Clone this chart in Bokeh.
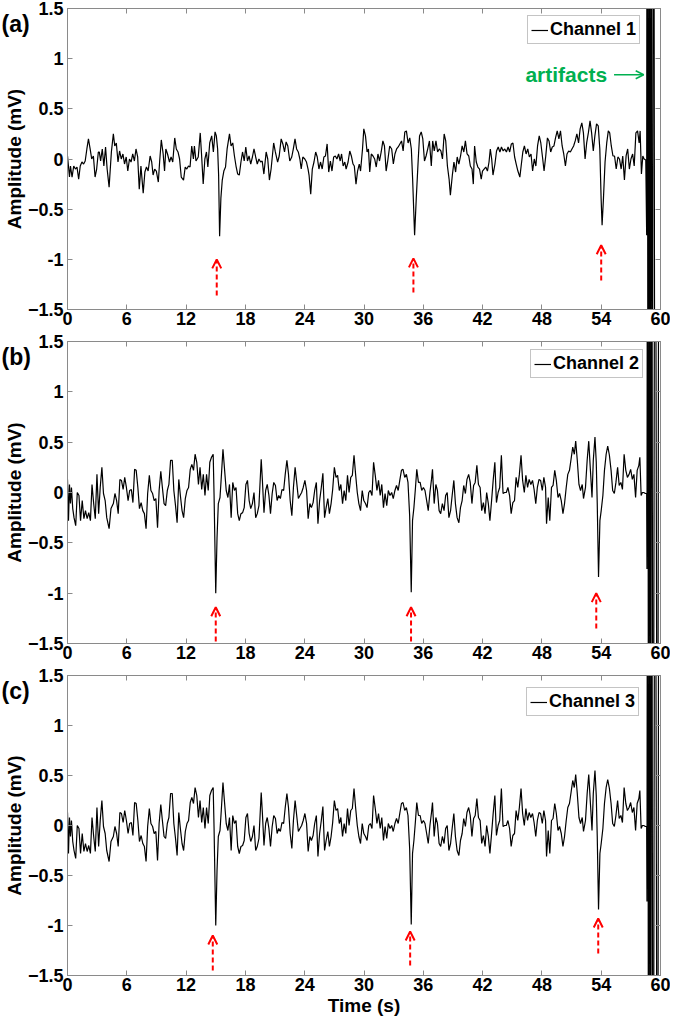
from bokeh.plotting import figure
from bokeh.layouts import column
from bokeh.models import (Range1d, LinearAxis, FixedTicker, Label, Arrow, OpenHead,
                          ColumnDataSource, CustomJSTickFormatter)
from bokeh.embed import file_html
from bokeh.resources import INLINE

# ---------------- data ----------------
x_ticks = [0, 6, 12, 18, 24, 30, 36, 42, 48, 54, 60]
y_ticks = [-1.5, -1, -0.5, 0, 0.5, 1, 1.5]
y_tick_labels = {-1: "-1", 0: "0", 1: "1"}

ch1_time = [
    0.0, 0.2, 0.3, 0.46, 0.63, 0.8, 0.96, 1.13, 1.29, 1.46,
    1.63, 1.79, 1.96, 2.12, 2.29, 2.45, 2.62, 2.79, 2.95, 3.12,
    3.22, 3.35, 3.52, 3.68, 3.85, 4.01, 4.21, 4.44, 4.64, 4.78,
    4.94, 5.11, 5.27, 5.44, 5.61, 5.77, 5.94, 6.1, 6.27, 6.43,
    6.6, 6.77, 6.93, 7.1, 7.26, 7.43, 7.66, 7.83, 7.99, 8.16,
    8.36, 8.52, 8.66, 8.82, 8.99, 9.19, 9.32, 9.49, 9.68, 9.82,
    9.95, 10.12, 10.32, 10.48, 10.65, 10.85, 11.01, 11.18, 11.34, 11.51,
    11.74, 11.91, 12.07, 12.24, 12.4, 12.57, 12.74, 12.84, 13.0, 13.23,
    13.43, 13.56, 13.73, 13.9, 14.06, 14.2, 14.39, 14.59, 14.76, 14.93,
    15.06, 15.19, 15.29, 15.39, 15.52, 15.66, 15.82, 15.99, 16.15, 16.39,
    16.55, 16.72, 16.89, 17.05, 17.22, 17.38, 17.55, 17.71, 17.88, 18.04,
    18.21, 18.37, 18.54, 18.71, 18.87, 19.04, 19.2, 19.37, 19.54, 19.7,
    19.87, 20.1, 20.26, 20.43, 20.6, 20.86, 21.03, 21.26, 21.42, 21.62,
    21.79, 21.96, 22.12, 22.29, 22.49, 22.69, 22.85, 23.02, 23.18, 23.35,
    23.51, 23.65, 23.81, 24.01, 24.18, 24.34, 24.44, 24.61, 24.77, 24.94,
    25.11, 25.27, 25.44, 25.6, 25.77, 25.94, 26.1, 26.27, 26.43, 26.6,
    26.76, 26.93, 27.1, 27.26, 27.43, 27.59, 27.73, 27.89, 28.06, 28.19,
    28.39, 28.56, 28.72, 28.89, 29.02, 29.19, 29.35, 29.52, 29.65, 29.85,
    29.98, 30.15, 30.31, 30.45, 30.58, 30.74, 30.91, 31.08, 31.24, 31.41,
    31.57, 31.74, 31.91, 32.07, 32.24, 32.4, 32.6, 32.8, 32.97, 33.13,
    33.3, 33.46, 33.63, 33.8, 33.96, 34.13, 34.29, 34.46, 34.63, 34.79,
    34.92, 35.12, 35.29, 35.49, 35.62, 35.79, 35.95, 36.12, 36.28, 36.45,
    36.62, 36.81, 36.95, 37.11, 37.28, 37.45, 37.61, 37.78, 37.94, 38.11,
    38.27, 38.44, 38.61, 38.74, 38.94, 39.1, 39.27, 39.43, 39.6, 39.77,
    39.93, 40.1, 40.26, 40.43, 40.6, 40.76, 40.93, 41.06, 41.19, 41.36,
    41.52, 41.69, 41.86, 41.99, 42.15, 42.32, 42.49, 42.65, 42.78, 42.92,
    43.05, 43.25, 43.41, 43.58, 43.75, 43.91, 44.08, 44.24, 44.41, 44.58,
    44.74, 44.91, 45.07, 45.24, 45.4, 45.57, 45.77, 45.9, 46.07, 46.23,
    46.4, 46.57, 46.73, 46.9, 47.06, 47.23, 47.39, 47.56, 47.73, 47.89,
    48.06, 48.22, 48.39, 48.56, 48.72, 48.89, 49.05, 49.22, 49.38, 49.55,
    49.72, 49.88, 50.05, 50.21, 50.38, 50.54, 50.71, 50.88, 51.04, 51.21,
    51.37, 51.54, 51.71, 51.87, 52.04, 52.2, 52.37, 52.53, 52.7, 52.87,
    53.03, 53.2, 53.36, 53.53, 53.7, 53.86, 53.99, 54.09, 54.23, 54.39,
    54.56, 54.72, 54.86, 55.02, 55.19, 55.35, 55.52, 55.69, 55.85, 56.02,
    56.18, 56.35, 56.52, 56.68, 56.85, 57.01, 57.18, 57.34, 57.51, 57.68,
    57.84, 57.94, 58.07, 58.21, 58.34, 58.51, 58.6,
    58.65, 58.75, 58.85, 58.95, 59.05, 59.15, 59.3, 59.45,
]
ch1_amp = [
    0.03, -0.18, -0.07, -0.18, -0.07, -0.1, -0.08, -0.2, -0.07, -0.03,
    -0.05, -0.02, 0.1, 0.2, 0.1, 0.0, 0.03, -0.18, -0.1, 0.07,
    0.07, -0.02, 0.1, -0.07, 0.12, -0.1, -0.28, 0.07, 0.25, 0.13,
    0.16, -0.03, 0.08, 0.0, 0.05, -0.05, 0.02, -0.12, 0.0, -0.03,
    0.05, -0.02, 0.1, 0.02, -0.3, -0.07, -0.34, -0.13, -0.08, -0.12,
    0.03, -0.03, -0.16, -0.1, -0.12, -0.23, -0.03, 0.19, 0.05, -0.12,
    0.1, 0.05, -0.03, 0.02, -0.03, 0.21, 0.1, 0.07, 0.0, -0.18,
    -0.21, -0.08, -0.1, -0.07, -0.08, 0.13, 0.0, 0.13, -0.02, 0.02,
    0.26, 0.05, -0.25, 0.0, 0.07, -0.08, 0.16, 0.23, 0.07, 0.27,
    0.23, 0.1, -0.16, -0.77, -0.39, -0.21, -0.12, -0.08, 0.1, 0.25,
    0.13, 0.16, 0.03, -0.07, -0.15, -0.16, -0.03, 0.07, -0.02, 0.12,
    -0.02, 0.03, -0.05, 0.02, 0.1, 0.02, -0.05, 0.0, -0.03, -0.02,
    -0.15, 0.07, 0.0, -0.21, -0.1, 0.16, 0.07, -0.03, 0.03, 0.2,
    0.15, 0.07, 0.17, 0.13, -0.02, 0.02, 0.1, 0.2, 0.1, 0.07,
    0.0, -0.1, 0.02, 0.0, -0.03, -0.1, -0.16, -0.35, -0.1, -0.03,
    0.07, 0.02, -0.1, -0.03, -0.1, 0.02, 0.03, 0.15, -0.13, -0.02,
    -0.12, 0.02, 0.03, 0.0, 0.05, -0.02, 0.05, -0.07, -0.03, -0.1,
    -0.03, 0.08, 0.03, -0.05, -0.07, -0.25, -0.12, -0.05, -0.12, 0.1,
    0.3, 0.23, 0.07, 0.1, -0.13, 0.05, 0.03, 0.0, -0.08, 0.05,
    -0.02, 0.07, 0.18, 0.13, -0.12, -0.02, 0.13, 0.1, -0.05, 0.05,
    0.1, 0.12, 0.15, 0.18, 0.08, 0.27, 0.28, 0.16, 0.21, 0.1,
    -0.2, -0.76, -0.39, 0.0, 0.23, 0.27, 0.2, -0.02, 0.03, 0.1,
    0.18, -0.07, 0.18, 0.08, 0.18, 0.07, 0.1, 0.08, 0.0, 0.25,
    0.18, -0.07, -0.2, -0.36, -0.16, -0.03, -0.13, 0.02, -0.05, 0.03,
    0.13, 0.07, 0.18, 0.05, 0.03, -0.07, -0.1, -0.25, 0.13, -0.03,
    -0.08, -0.1, -0.2, -0.12, -0.1, -0.08, -0.12, -0.03, 0.1, 0.0,
    -0.16, -0.05, 0.08, 0.12, 0.07, 0.12, 0.08, 0.1, 0.07, 0.12,
    0.07, 0.15, 0.16, 0.02, -0.05, -0.12, -0.18, -0.07, 0.07, 0.13,
    0.05, 0.1, 0.02, 0.05, -0.12, 0.0, -0.07, 0.13, 0.23, 0.16,
    0.02, -0.12, 0.03, 0.21, 0.18, 0.07, 0.12, 0.13, 0.21, 0.28,
    0.2, 0.28, 0.13, 0.05, -0.07, 0.05, 0.08, 0.07, 0.1, 0.13,
    0.18, 0.25, 0.16, 0.3, 0.36, 0.26, 0.0, 0.16, 0.26, 0.38,
    0.26, 0.08, 0.23, 0.35, 0.33, 0.1, -0.39, -0.66, -0.39, -0.03,
    0.16, 0.28, 0.26, 0.13, 0.03, 0.03, -0.1, 0.02, 0.0, -0.1,
    0.03, -0.21, 0.03, 0.1, -0.1, 0.0, 0.05, -0.07, 0.26, 0.28,
    0.16, 0.28, -0.15, 0.03, 0.0, -0.01, -0.76,
    6, -6, 6, -6, 6, -6, 6, -6,
]

ch2_time = [
    0.0, 0.1, 0.2, 0.3, 0.4, 0.53, 0.66, 0.83, 0.99, 1.16,
    1.32, 1.49, 1.66, 1.82, 1.99, 2.15, 2.32, 2.48, 2.65, 2.81,
    2.98, 3.15, 3.31, 3.48, 3.64, 3.81, 3.97, 4.21, 4.4, 4.64,
    4.8, 4.97, 5.13, 5.3, 5.46, 5.63, 5.79, 5.96, 6.13, 6.29,
    6.46, 6.62, 6.79, 6.95, 7.12, 7.28, 7.45, 7.62, 7.78, 7.95,
    8.11, 8.28, 8.44, 8.61, 8.77, 8.94, 9.11, 9.27, 9.44, 9.6,
    9.77, 9.93, 10.1, 10.26, 10.43, 10.6, 10.76, 10.93, 11.09, 11.26,
    11.42, 11.59, 11.75, 11.92, 12.09, 12.25, 12.42, 12.58, 12.75, 12.91,
    13.08, 13.25, 13.41, 13.58, 13.74, 13.91, 14.07, 14.24, 14.4, 14.57,
    14.74, 14.83, 15.0, 15.13, 15.26, 15.43, 15.56, 15.73, 15.89, 16.06,
    16.23, 16.39, 16.56, 16.72, 16.89, 17.05, 17.22, 17.38, 17.55, 17.72,
    17.88, 18.05, 18.21, 18.38, 18.54, 18.71, 18.87, 19.04, 19.2, 19.37,
    19.6, 19.72, 19.88, 20.05, 20.21, 20.38, 20.54, 20.71, 20.87, 21.04,
    21.21, 21.37, 21.54, 21.7, 21.87, 22.03, 22.2, 22.36, 22.53, 22.7,
    22.86, 23.03, 23.19, 23.36, 23.52, 23.69, 23.85, 24.02, 24.19, 24.35,
    24.52, 24.68, 24.85, 25.01, 25.18, 25.34, 25.51, 25.68, 25.84, 26.01,
    26.17, 26.34, 26.5, 26.67, 26.83, 27.0, 27.17, 27.33, 27.5, 27.66,
    27.83, 27.99, 28.16, 28.33, 28.49, 28.66, 28.82, 28.99, 29.15, 29.32,
    29.48, 29.65, 29.82, 29.98, 30.15, 30.31, 30.48, 30.64, 30.81, 30.97,
    31.14, 31.31, 31.47, 31.64, 31.8, 31.97, 32.13, 32.3, 32.46, 32.63,
    32.8, 32.96, 33.13, 33.29, 33.46, 33.62, 33.79, 33.95, 34.12, 34.29,
    34.45, 34.62, 34.78, 34.91, 35.05, 35.21, 35.34, 35.51, 35.68, 35.84,
    36.01, 36.17, 36.34, 36.5, 36.67, 36.83, 36.93, 37.1, 37.27, 37.43,
    37.6, 37.76, 37.93, 38.1, 38.26, 38.42, 38.59, 38.76, 38.92, 39.09,
    39.25, 39.42, 39.6, 39.76, 39.93, 40.09, 40.26, 40.42, 40.59, 40.75,
    40.92, 41.09, 41.25, 41.42, 41.58, 41.75, 41.91, 42.08, 42.25, 42.41,
    42.58, 42.74, 42.91, 43.07, 43.24, 43.4, 43.57, 43.73, 43.9, 44.07,
    44.23, 44.4, 44.56, 44.73, 44.89, 45.06, 45.23, 45.39, 45.56, 45.72,
    45.89, 46.05, 46.22, 46.38, 46.55, 46.71, 46.88, 47.05, 47.21, 47.38,
    47.54, 47.71, 47.87, 48.04, 48.2, 48.37, 48.47, 48.64, 48.8, 48.97,
    49.13, 49.3, 49.46, 49.63, 49.79, 49.96, 50.13, 50.29, 50.46, 50.62,
    50.79, 50.95, 51.12, 51.28, 51.42, 51.58, 51.75, 51.91, 52.08, 52.21,
    52.41, 52.58, 52.74, 52.91, 53.07, 53.2, 53.37, 53.5, 53.6, 53.73,
    53.87, 54.0, 54.17, 54.33, 54.5, 54.66, 54.83, 55.0, 55.16, 55.33,
    55.49, 55.66, 55.82, 55.99, 56.15, 56.32, 56.49, 56.65, 56.82, 56.98,
    57.15, 57.31, 57.48, 57.64, 57.81, 57.91, 58.04, 58.17, 58.3, 58.47,
    58.6, 58.63,
    58.7, 58.8, 58.9, 59.0, 59.1, 59.25, 59.45, 59.7, 59.85,
]
ch2_amp = [
    0.13, -0.28, 0.08, -0.11, 0.05, -0.16, -0.25, -0.33, 0.0, -0.03,
    -0.28, -0.08, -0.26, -0.18, -0.26, -0.2, -0.28, 0.08, -0.11, -0.26,
    0.18, -0.21, 0.05, 0.25, -0.01, -0.08, -0.25, -0.36, -0.16, -0.11,
    -0.01, -0.08, -0.21, 0.13, 0.12, 0.03, 0.15, 0.05, -0.08, 0.02,
    0.03, -0.1, 0.23, 0.22, 0.05, -0.16, -0.1, -0.18, -0.21, -0.36,
    -0.01, 0.17, 0.02, -0.01, -0.08, -0.06, -0.35, 0.02, 0.21, 0.05,
    -0.11, -0.13, 0.02, 0.08, 0.32, 0.32, 0.02, -0.13, -0.3, 0.13,
    -0.03, -0.18, -0.25, -0.06, 0.02, 0.05, 0.23, 0.28, 0.22, 0.38,
    0.3, 0.08, 0.25, 0.03, 0.18, -0.03, 0.18, 0.02, 0.3, 0.35,
    0.38, -0.03, -1.0, -0.45, -0.11, -0.05, 0.15, 0.43, 0.23, 0.02,
    -0.05, 0.08, -0.25, 0.1, 0.02, 0.05, -0.21, -0.28, -0.21, -0.2,
    -0.15, 0.08, 0.12, -0.08, -0.16, -0.11, 0.0, -0.25, -0.21, -0.13,
    0.33, 0.12, -0.2, 0.02, 0.08, -0.03, -0.21, -0.01, 0.1, 0.07,
    -0.08, -0.03, -0.06, 0.03, 0.02, 0.18, 0.32, 0.18, -0.08, -0.23,
    0.05, 0.25, 0.1, -0.06, -0.03, 0.0, 0.05, 0.12, 0.02, -0.26,
    -0.11, -0.15, -0.1, 0.02, 0.1, -0.31, -0.08, 0.05, 0.19, -0.25,
    -0.15, -0.06, -0.21, -0.11, 0.03, 0.25, 0.15, 0.17, 0.02, 0.08,
    -0.11, 0.02, -0.08, 0.17, 0.0, 0.15, 0.17, 0.37, 0.18, 0.0,
    -0.11, -0.18, 0.02, -0.08, -0.11, -0.15, 0.0, 0.02, -0.03, 0.3,
    0.17, 0.02, 0.12, -0.03, 0.08, -0.15, -0.01, -0.13, 0.02, -0.03,
    0.0, -0.06, 0.02, 0.07, 0.02, 0.12, 0.22, 0.23, 0.15, 0.18,
    0.1, -0.23, -0.99, -0.28, -0.15, 0.05, 0.23, 0.1, 0.1, 0.02,
    0.05, 0.02, -0.08, -0.18, 0.0, 0.13, 0.23, -0.11, 0.08, 0.02,
    -0.18, -0.21, -0.11, -0.18, -0.03, 0.0, -0.25, -0.18, -0.03, 0.12,
    -0.11, -0.25, -0.3, -0.15, -0.08, 0.07, -0.01, 0.13, 0.18, 0.1,
    -0.11, 0.07, 0.1, 0.27, 0.08, 0.05, -0.18, -0.1, -0.21, 0.0,
    -0.11, -0.28, -0.08, 0.12, 0.3, -0.1, 0.0, 0.05, 0.37, -0.01,
    0.0, 0.0, 0.05, -0.03, -0.21, -0.1, -0.08, 0.15, 0.05, 0.18,
    0.37, 0.12, 0.0, 0.17, 0.05, 0.13, 0.08, 0.12, 0.03, -0.11,
    0.05, 0.13, 0.12, 0.02, 0.15, 0.05, -0.31, -0.05, -0.28, 0.05,
    0.07, 0.22, 0.12, -0.05, -0.01, -0.08, -0.21, -0.11, 0.05, 0.18,
    0.22, 0.33, 0.45, 0.38, 0.51, 0.32, 0.08, 0.02, 0.08, -0.06,
    0.05, 0.32, 0.51, 0.22, -0.05, 0.32, 0.55, 0.3, -0.11, -0.84,
    -0.28, -0.18, -0.03, 0.22, 0.38, 0.46, 0.37, 0.22, 0.02, -0.01,
    0.1, 0.25, 0.07, 0.1, 0.03, 0.38, 0.22, 0.15, 0.18, 0.23,
    0.13, 0.18, -0.05, 0.22, 0.27, 0.35, -0.03, 0.0, 0.0, -0.01,
    -0.01, -0.76,
    6, -6, 6, -6, 6, -6, 6, -6, 6,
]

# channel 3 is visually identical to channel 2 in the reference
ch3_time = list(ch2_time)
ch3_amp = list(ch2_amp)

# red dashed arrows under the spikes: time, tail amplitude, tip amplitude
arrow_a_time = [15.1, 35.0, 54.0]
arrow_a_tail = [-1.36, -1.33, -1.21]
arrow_a_tip = [-1.0, -0.99, -0.86]
arrow_b_time = [15.0, 34.76, 53.5]
arrow_b_tail = [-1.48, -1.48, -1.35]
arrow_b_tip = [-1.14, -1.14, -1.0]
arrow_c_time = [14.7, 34.67, 53.7]
arrow_c_tail = [-1.45, -1.4, -1.28]
arrow_c_tip = [-1.1, -1.06, -0.93]

# ---------------- styling ----------------
FONT = "Liberation Sans"
GRAY = "#8a8a8a"
GREEN = "#00b050"
RED = "#ff0000"


def style_axis(ax, ticks, labels=True, standoff=2):
    ax.ticker = FixedTicker(ticks=ticks)
    ax.major_tick_in = 5
    ax.major_tick_out = 0
    ax.minor_tick_in = 0
    ax.minor_tick_out = 0
    ax.axis_line_color = GRAY
    ax.major_tick_line_color = GRAY
    ax.major_label_text_font = FONT
    ax.major_label_text_font_style = "bold"
    ax.major_label_text_color = "black"
    if labels:
        ax.major_label_text_font_size = "18px"
        ax.major_label_standoff = standoff
    else:
        ax.formatter = CustomJSTickFormatter(code="return ''")
        ax.major_label_text_font_size = "1px"
        ax.major_label_standoff = 0


def make_panel(tag, t, v, name, a_time, a_tail, a_tip, height, bottom, legend_xy,
               xlabel=None, artifacts=False):
    p = figure(width=670, height=height, output_backend="svg", toolbar_location=None,
               x_range=Range1d(0, 60), y_range=Range1d(-1.5, 1.5), tools="",
               min_border_left=56, min_border_right=10, min_border_top=8,
               min_border_bottom=bottom, title=tag)
    p.grid.visible = False
    p.outline_line_color = GRAY
    p.background_fill_color = "white"
    p.border_fill_color = "white"

    # panel tag "(a)" etc., pushed down into the upper-left corner beside the frame
    p.title.align = "left"
    p.title.vertical_align = "bottom"
    p.title.offset = -66
    p.title.standoff = -56
    p.title.text_font = FONT
    p.title.text_font_style = "bold"
    p.title.text_font_size = "23px"
    p.title.text_color = "black"

    style_axis(p.xaxis[0], x_ticks, standoff=2)
    style_axis(p.yaxis[0], y_ticks, standoff=4)
    p.yaxis[0].major_label_overrides = y_tick_labels
    p.yaxis[0].axis_label = "Amplitude (mV)"
    p.yaxis[0].axis_label_text_font = FONT
    p.yaxis[0].axis_label_text_font_style = "bold"
    p.yaxis[0].axis_label_text_font_size = "19px"
    p.yaxis[0].axis_label_text_color = "black"
    p.yaxis[0].axis_label_standoff = 0
    if xlabel:
        p.xaxis[0].axis_label = xlabel
        p.xaxis[0].axis_label_text_font = FONT
        p.xaxis[0].axis_label_text_font_style = "bold"
        p.xaxis[0].axis_label_text_font_size = "19px"
        p.xaxis[0].axis_label_text_color = "black"
        p.xaxis[0].axis_label_standoff = 1

    right = LinearAxis()
    style_axis(right, y_ticks, labels=False)
    p.add_layout(right, "right")
    top = LinearAxis()
    style_axis(top, x_ticks, labels=False)
    p.add_layout(top, "above")

    p.line(t, v, line_color="black", line_width=1.2, legend_label=name)

    lg = p.legend[0]
    lg.location = legend_xy
    lg.margin = 0
    lg.padding = 3
    lg.spacing = 0
    lg.glyph_width = 17
    lg.glyph_height = 18
    lg.label_height = 18
    lg.label_standoff = 2
    lg.label_text_font = FONT
    lg.label_text_font_style = "bold"
    lg.label_text_font_size = "18px"
    lg.label_text_color = "black"
    lg.border_line_color = GRAY
    lg.border_line_width = 1
    lg.background_fill_alpha = 1.0

    src = ColumnDataSource(dict(xs=a_time, ys=a_tail, xe=a_time, ye=a_tip))
    p.add_layout(Arrow(source=src, x_start="xs", y_start="ys", x_end="xe", y_end="ye",
                       line_color=RED, line_width=2, line_dash="5 3",
                       end=OpenHead(size=9, line_color=RED, line_width=2)))

    if artifacts:
        p.add_layout(Label(x=54.6, y=0.84, text="artifacts", text_font=FONT,
                           text_font_style="bold", text_font_size="21px",
                           text_color=GREEN, text_baseline="middle", text_align="right"))
        p.add_layout(Arrow(x_start=55.3, y_start=0.84, x_end=58.3, y_end=0.84,
                           line_color=GREEN, line_width=1.5,
                           end=OpenHead(size=8, line_color=GREEN, line_width=1.5)))
    return p


pa = make_panel("(a)", ch1_time, ch1_amp, "Channel 1",
                arrow_a_time, arrow_a_tail, arrow_a_tip, 333, 24, (460, 265),
                artifacts=True)
pb = make_panel("(b)", ch2_time, ch2_amp, "Channel 2",
                arrow_b_time, arrow_b_tail, arrow_b_tip, 334, 24, (463, 265))
pc = make_panel("(c)", ch3_time, ch3_amp, "Channel 3",
                arrow_c_time, arrow_c_tail, arrow_c_tip, 352, 44, (459, 259),
                xlabel="Time (s)")

layout = column(pa, pb, pc, spacing=0)
open("out.html", "w").write(file_html(layout, INLINE))
